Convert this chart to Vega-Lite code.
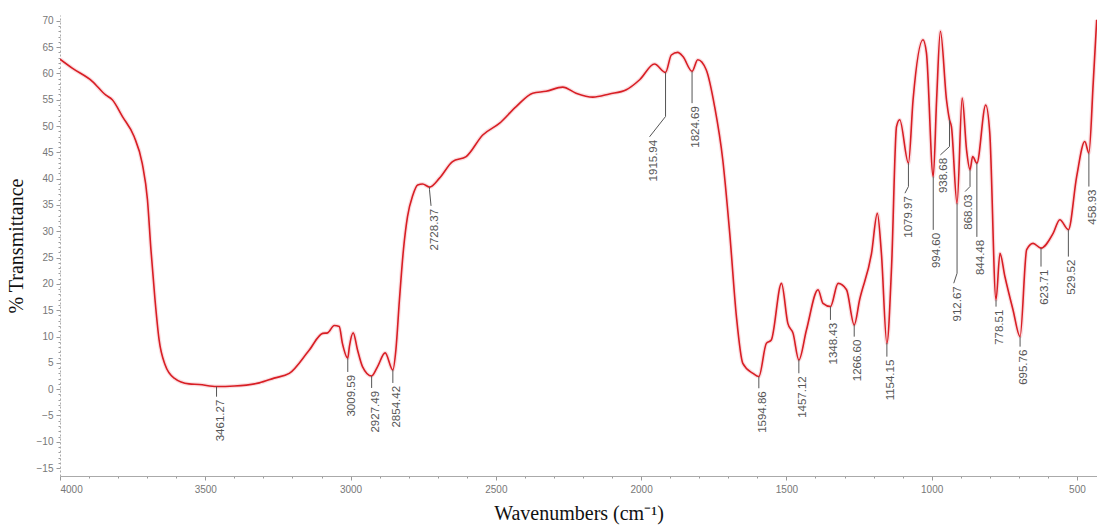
{
  "$schema": "https://vega.github.io/schema/vega-lite/v6.json",
  "width": 1037,
  "height": 461,
  "autosize": {"type": "none"},
  "padding": {"left": 60, "top": 15, "right": 0, "bottom": 51},
  "background": "white",
  "config": {"view": {"stroke": null}},
  "datasets": {
    "spectrum": [
      {"wn": 4000, "t": 62.7}, {"wn": 3958, "t": 61.0}, {"wn": 3889, "t": 58.5}, {"wn": 3843, "t": 55.9},
      {"wn": 3820, "t": 55.0}, {"wn": 3785, "t": 51.8}, {"wn": 3745, "t": 48.0}, {"wn": 3717, "t": 42.9},
      {"wn": 3699, "t": 36.0}, {"wn": 3687, "t": 26.5}, {"wn": 3673, "t": 17.0}, {"wn": 3659, "t": 9.4},
      {"wn": 3638, "t": 4.6}, {"wn": 3607, "t": 2.1}, {"wn": 3556, "t": 1.0}, {"wn": 3521, "t": 0.9},
      {"wn": 3461.27, "t": 0.5}, {"wn": 3400, "t": 0.6}, {"wn": 3314, "t": 1.2}, {"wn": 3263, "t": 2.1},
      {"wn": 3211, "t": 3.0}, {"wn": 3142, "t": 7.45}, {"wn": 3096, "t": 10.6}, {"wn": 3079, "t": 10.7},
      {"wn": 3056, "t": 12.1}, {"wn": 3039, "t": 11.9}, {"wn": 3028, "t": 8.7}, {"wn": 3009.59, "t": 5.9},
      {"wn": 3004, "t": 8.1}, {"wn": 2991, "t": 10.7}, {"wn": 2976, "t": 7.45}, {"wn": 2959, "t": 4.3},
      {"wn": 2927.49, "t": 2.5}, {"wn": 2907, "t": 4.3}, {"wn": 2881, "t": 6.9}, {"wn": 2854.42, "t": 3.65},
      {"wn": 2844, "t": 7.45}, {"wn": 2832, "t": 16.8}, {"wn": 2818, "t": 26.5}, {"wn": 2804, "t": 32.8},
      {"wn": 2786, "t": 36.8}, {"wn": 2769, "t": 38.8}, {"wn": 2752, "t": 39.0}, {"wn": 2728.37, "t": 38.4},
      {"wn": 2694, "t": 40.1}, {"wn": 2649, "t": 43.25}, {"wn": 2602, "t": 44.2}, {"wn": 2545, "t": 48.3},
      {"wn": 2488, "t": 50.5}, {"wn": 2430, "t": 53.7}, {"wn": 2373, "t": 56.25}, {"wn": 2327, "t": 56.6},
      {"wn": 2270, "t": 57.4}, {"wn": 2224, "t": 56.25}, {"wn": 2166, "t": 55.5}, {"wn": 2109, "t": 56.1},
      {"wn": 2051, "t": 56.9}, {"wn": 2005, "t": 58.8}, {"wn": 1954, "t": 61.8}, {"wn": 1915.94, "t": 60.2},
      {"wn": 1896, "t": 63.5}, {"wn": 1874, "t": 64.0}, {"wn": 1856, "t": 63.2}, {"wn": 1824.69, "t": 60.4},
      {"wn": 1805, "t": 62.6}, {"wn": 1776, "t": 60.7}, {"wn": 1747, "t": 53.7}, {"wn": 1719, "t": 43.6},
      {"wn": 1695, "t": 29.6}, {"wn": 1672, "t": 13.8}, {"wn": 1650, "t": 4.9}, {"wn": 1615, "t": 3.0},
      {"wn": 1594.86, "t": 2.4}, {"wn": 1569, "t": 8.7}, {"wn": 1552, "t": 9.35}, {"wn": 1517, "t": 20.1},
      {"wn": 1495, "t": 12.5}, {"wn": 1477, "t": 10.6}, {"wn": 1457.12, "t": 5.55}, {"wn": 1431, "t": 11.25},
      {"wn": 1391, "t": 18.9}, {"wn": 1374, "t": 16.3}, {"wn": 1348.43, "t": 15.7}, {"wn": 1322, "t": 20.1},
      {"wn": 1293, "t": 18.9}, {"wn": 1266.6, "t": 12.2}, {"wn": 1248, "t": 17.0}, {"wn": 1207, "t": 25.8},
      {"wn": 1187, "t": 33.4}, {"wn": 1173, "t": 25.8}, {"wn": 1154.15, "t": 8.7}, {"wn": 1138, "t": 23.3},
      {"wn": 1121, "t": 49.9}, {"wn": 1110, "t": 51.2}, {"wn": 1079.97, "t": 42.95}, {"wn": 1064, "t": 55.0},
      {"wn": 1030, "t": 66.4}, {"wn": 1018, "t": 63.9}, {"wn": 994.6, "t": 40.4}, {"wn": 983, "t": 55.0},
      {"wn": 970, "t": 68.0}, {"wn": 949, "t": 55.0}, {"wn": 938.68, "t": 51.2}, {"wn": 932, "t": 49.9},
      {"wn": 912.67, "t": 35.3}, {"wn": 895, "t": 55.3}, {"wn": 880, "t": 45.5}, {"wn": 868.03, "t": 41.7},
      {"wn": 859, "t": 44.2}, {"wn": 844.48, "t": 42.95}, {"wn": 814, "t": 54.0}, {"wn": 800, "t": 48.65},
      {"wn": 778.51, "t": 17.0}, {"wn": 765, "t": 25.8}, {"wn": 748, "t": 21.4}, {"wn": 720, "t": 15.05},
      {"wn": 695.76, "t": 10.0}, {"wn": 673, "t": 26.5}, {"wn": 651, "t": 27.7}, {"wn": 623.71, "t": 26.8},
      {"wn": 582, "t": 29.6}, {"wn": 559, "t": 32.2}, {"wn": 529.52, "t": 30.3}, {"wn": 501, "t": 40.4},
      {"wn": 473, "t": 47.05}, {"wn": 458.93, "t": 44.9}, {"wn": 444, "t": 58.2}, {"wn": 432, "t": 70.2}
    ],
    "leaders": [
      {"label": "3461.27", "seq": 0, "wn": 3461.27, "t": 0.48}, {"label": "3461.27", "seq": 1, "wn": 3461.27, "t": -1.43},
      {"label": "3009.59", "seq": 0, "wn": 3009.59, "t": 5.87}, {"label": "3009.59", "seq": 1, "wn": 3009.59, "t": 3.27},
      {"label": "2927.49", "seq": 0, "wn": 2927.49, "t": 2.51}, {"label": "2927.49", "seq": 1, "wn": 2927.49, "t": 0.23},
      {"label": "2854.42", "seq": 0, "wn": 2854.42, "t": 3.65}, {"label": "2854.42", "seq": 1, "wn": 2854.42, "t": 1.18},
      {"label": "2728.37", "seq": 0, "wn": 2728.37, "t": 38.38}, {"label": "2728.37", "seq": 1, "wn": 2728.37, "t": 37.9}, {"label": "2728.37", "seq": 2, "wn": 2723, "t": 34.83},
      {"label": "1915.94", "seq": 0, "wn": 1915.94, "t": 60.17}, {"label": "1915.94", "seq": 1, "wn": 1915.94, "t": 51.81}, {"label": "1915.94", "seq": 2, "wn": 1971, "t": 47.95},
      {"label": "1824.69", "seq": 0, "wn": 1824.69, "t": 60.36}, {"label": "1824.69", "seq": 1, "wn": 1824.69, "t": 54.35},
      {"label": "1594.86", "seq": 0, "wn": 1594.86, "t": 2.38}, {"label": "1594.86", "seq": 1, "wn": 1594.86, "t": 0.17},
      {"label": "1457.12", "seq": 0, "wn": 1457.12, "t": 5.55}, {"label": "1457.12", "seq": 1, "wn": 1457.12, "t": 3.02},
      {"label": "1348.43", "seq": 0, "wn": 1348.43, "t": 15.68}, {"label": "1348.43", "seq": 1, "wn": 1348.43, "t": 13.16},
      {"label": "1266.60", "seq": 0, "wn": 1266.6, "t": 12.21}, {"label": "1266.60", "seq": 1, "wn": 1266.6, "t": 9.98},
      {"label": "1154.15", "seq": 0, "wn": 1154.15, "t": 8.78}, {"label": "1154.15", "seq": 1, "wn": 1154.15, "t": 6.18},
      {"label": "1079.97", "seq": 0, "wn": 1079.97, "t": 42.95}, {"label": "1079.97", "seq": 1, "wn": 1079.97, "t": 38.5}, {"label": "1079.97", "seq": 2, "wn": 1092, "t": 37.24},
      {"label": "994.60", "seq": 0, "wn": 994.6, "t": 40.4}, {"label": "994.60", "seq": 1, "wn": 994.6, "t": 30.27},
      {"label": "938.68", "seq": 0, "wn": 938.68, "t": 51.18}, {"label": "938.68", "seq": 1, "wn": 938.68, "t": 46.1}, {"label": "938.68", "seq": 2, "wn": 970, "t": 44.52},
      {"label": "912.67", "seq": 0, "wn": 912.67, "t": 35.34}, {"label": "912.67", "seq": 1, "wn": 912.67, "t": 22.03}, {"label": "912.67", "seq": 2, "wn": 924, "t": 20.13},
      {"label": "868.03", "seq": 0, "wn": 868.03, "t": 41.67}, {"label": "868.03", "seq": 1, "wn": 868.03, "t": 38.5}, {"label": "868.03", "seq": 2, "wn": 885, "t": 37.55},
      {"label": "844.48", "seq": 0, "wn": 844.48, "t": 42.95}, {"label": "844.48", "seq": 1, "wn": 844.48, "t": 28.94},
      {"label": "778.51", "seq": 0, "wn": 778.51, "t": 16.96}, {"label": "778.51", "seq": 1, "wn": 778.51, "t": 15.68},
      {"label": "695.76", "seq": 0, "wn": 695.76, "t": 9.98}, {"label": "695.76", "seq": 1, "wn": 695.76, "t": 8.08},
      {"label": "623.71", "seq": 0, "wn": 623.71, "t": 26.79}, {"label": "623.71", "seq": 1, "wn": 623.71, "t": 23.29},
      {"label": "529.52", "seq": 0, "wn": 529.52, "t": 30.27}, {"label": "529.52", "seq": 1, "wn": 529.52, "t": 25.19},
      {"label": "458.93", "seq": 0, "wn": 458.93, "t": 44.85}, {"label": "458.93", "seq": 1, "wn": 458.93, "t": 38.5}
    ],
    "labels": [
      {"label": "3461.27", "wn": 3461.27, "t": -1.43}, {"label": "3009.59", "wn": 3009.59, "t": 3.27},
      {"label": "2927.49", "wn": 2927.49, "t": 0.23}, {"label": "2854.42", "wn": 2854.42, "t": 1.18},
      {"label": "2728.37", "wn": 2723, "t": 34.83}, {"label": "1915.94", "wn": 1971, "t": 47.95},
      {"label": "1824.69", "wn": 1824.69, "t": 54.35}, {"label": "1594.86", "wn": 1594.86, "t": 0.17},
      {"label": "1457.12", "wn": 1457.12, "t": 3.02}, {"label": "1348.43", "wn": 1348.43, "t": 13.16},
      {"label": "1266.60", "wn": 1266.6, "t": 9.98}, {"label": "1154.15", "wn": 1154.15, "t": 6.18},
      {"label": "1079.97", "wn": 1092, "t": 37.24}, {"label": "994.60", "wn": 994.6, "t": 30.27},
      {"label": "938.68", "wn": 970, "t": 44.52}, {"label": "912.67", "wn": 924, "t": 20.13},
      {"label": "868.03", "wn": 885, "t": 37.55}, {"label": "844.48", "wn": 844.48, "t": 28.94},
      {"label": "778.51", "wn": 778.51, "t": 15.68}, {"label": "695.76", "wn": 695.76, "t": 8.08},
      {"label": "623.71", "wn": 623.71, "t": 23.29}, {"label": "529.52", "wn": 529.52, "t": 25.19},
      {"label": "458.93", "wn": 458.93, "t": 38.5}
    ]
  },
  "encoding": {
    "x": {
      "field": "wn", "type": "quantitative",
      "scale": {"domain": [4000, 431], "nice": false, "zero": false},
      "axis": {
        "title": "Wavenumbers (cm⁻¹)",
        "values": [500,600,700,800,900,1000,1100,1200,1300,1400,1500,1600,1700,1800,1900,2000,2100,2200,2300,2400,2500,2600,2700,2800,2900,3000,3100,3200,3300,3400,3500,3600,3700,3800,3900,4000],
        "labelExpr": "datum.value % 500 === 0 ? datum.label : ''",
        "format": "d",
        "labelOverlap": false,
        "labelFont": "Liberation Sans", "labelFontSize": 10, "labelColor": "#777",
        "labelPadding": 4,
        "tickSize": {"condition": {"test": "datum.value % 500 === 0", "value": 4}, "value": 2},
        "tickColor": "#999", "domainColor": "#aaa", "grid": false,
        "titleFont": "Liberation Serif", "titleFontSize": 20, "titleFontWeight": "normal", "titleColor": "#111",
        "titlePadding": 9
      }
    },
    "y": {
      "field": "t", "type": "quantitative",
      "scale": {"domain": [-16.5, 71.1], "nice": false, "zero": false},
      "axis": {
        "title": "% Transmittance",
        "values": [-15,-14,-13,-12,-11,-10,-9,-8,-7,-6,-5,-4,-3,-2,-1,0,1,2,3,4,5,6,7,8,9,10,11,12,13,14,15,16,17,18,19,20,21,22,23,24,25,26,27,28,29,30,31,32,33,34,35,36,37,38,39,40,41,42,43,44,45,46,47,48,49,50,51,52,53,54,55,56,57,58,59,60,61,62,63,64,65,66,67,68,69,70],
        "labelExpr": "datum.value % 5 === 0 ? datum.label : ''",
        "format": "d",
        "labelOverlap": false,
        "labelFont": "Liberation Sans", "labelFontSize": 10, "labelColor": "#777",
        "labelPadding": 3,
        "tickSize": {"condition": {"test": "datum.value % 5 === 0", "value": 4}, "value": 2},
        "tickColor": "#999", "domainColor": "#aaa", "domainDash": [2, 2], "grid": false,
        "titleFont": "Liberation Serif", "titleFontSize": 20, "titleFontWeight": "normal", "titleColor": "#111",
        "titlePadding": 10
      }
    }
  },
  "layer": [
    {
      "data": {"name": "spectrum"},
      "mark": {"type": "line", "color": "#f2a0a8", "strokeWidth": 4, "opacity": 0.35, "clip": true, "interpolate": "monotone"},
      "encoding": {}
    },
    {
      "data": {"name": "spectrum"},
      "mark": {"type": "line", "color": "#d81e24", "strokeWidth": 1.6, "clip": true, "interpolate": "monotone"},
      "encoding": {}
    },
    {
      "data": {"name": "leaders"},
      "mark": {"type": "line", "color": "#555", "strokeWidth": 1},
      "encoding": {
        "detail": {"field": "label"},
        "order": {"field": "seq", "type": "quantitative"}
      }
    },
    {
      "data": {"name": "labels"},
      "mark": {"type": "text", "angle": 270, "align": "right", "baseline": "middle", "dx": -3, "dy": 4, "font": "Liberation Sans", "fontSize": 11.5, "color": "#555"},
      "encoding": {"text": {"field": "label"}}
    }
  ]
}
